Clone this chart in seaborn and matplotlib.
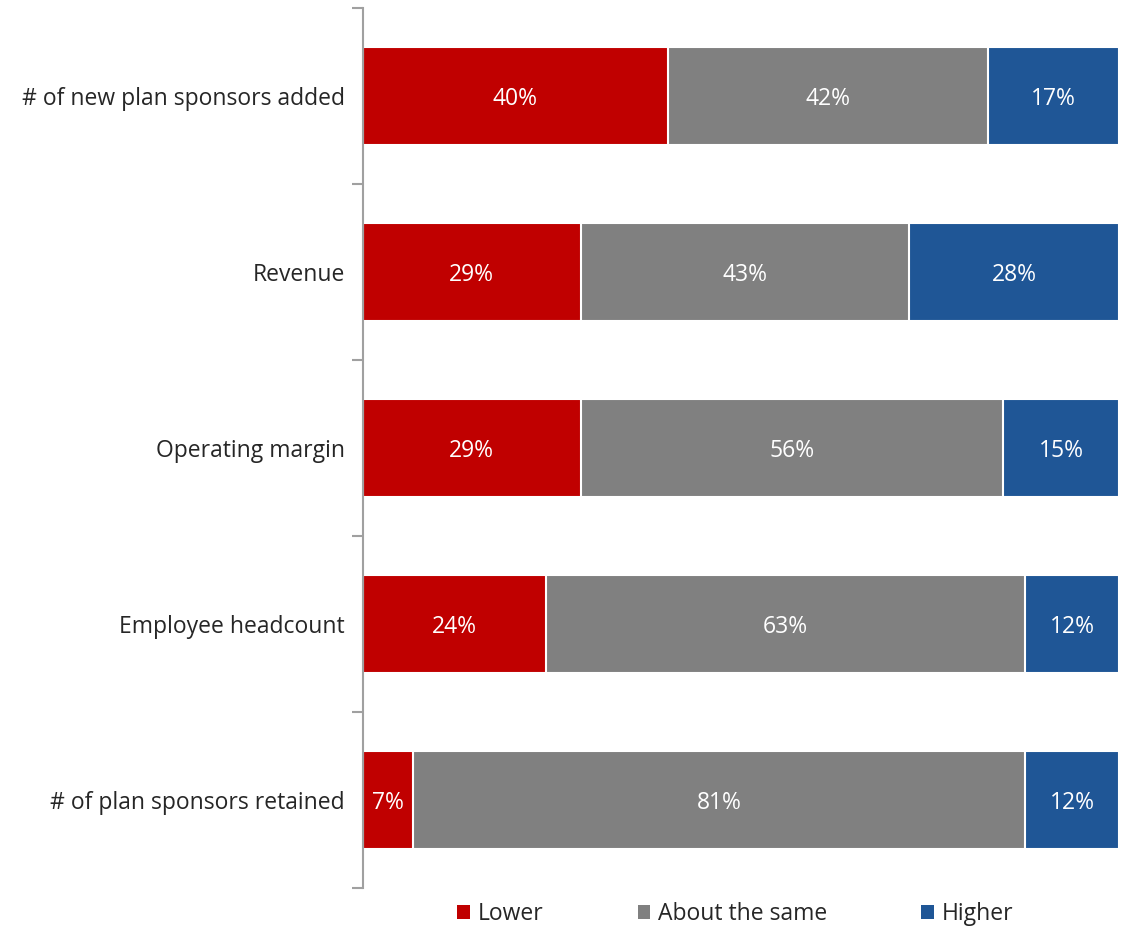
import matplotlib
matplotlib.use("Agg")
import matplotlib.pyplot as plt
from matplotlib.patches import Patch
import seaborn as sns
import pandas as pd
import numpy as np

categories = ["# of new plan sponsors added", "Revenue", "Operating margin",
              "Employee headcount", "# of plan sponsors retained"]
lower = [40.3, 28.8, 28.8, 24.2, 6.6]
same = [42.4, 43.4, 55.9, 63.4, 81.0]
higher = [17.3, 27.8, 15.3, 12.4, 12.4]
lower_lbl = ["40%", "29%", "29%", "24%", "7%"]
same_lbl = ["42%", "43%", "56%", "63%", "81%"]
higher_lbl = ["17%", "28%", "15%", "12%", "12%"]
series_names = ["Lower", "About the same", "Higher"]
colors = ["#C00000", "#808080", "#1F5696"]

sns.set_theme(style="white")
plt.rcParams["font.family"] = ["Open Sans", "DejaVu Sans"]

df = pd.DataFrame({"cat": categories, "lower": lower, "same": same, "higher": higher})
df["c1"] = df["lower"]
df["c2"] = df["lower"] + df["same"]
df["c3"] = df["c2"] + df["higher"]

fig = plt.figure(figsize=(11.3, 9.26), dpi=100)
ax = fig.add_axes([363 / 1130, 1 - 888 / 926, (1119 - 363) / 1130, (888 - 8) / 926])

for col, color in zip(["c3", "c2", "c1"], colors[::-1]):
    sns.barplot(data=df, y="cat", x=col, order=categories, color=color,
                orient="y", width=0.56, edgecolor="white", linewidth=1.5,
                saturation=1, ax=ax)

for i in range(len(categories)):
    starts = [0, df["c1"][i], df["c2"][i]]
    widths = [lower[i], same[i], higher[i]]
    labels = [lower_lbl[i], same_lbl[i], higher_lbl[i]]
    for s, w, l in zip(starts, widths, labels):
        ax.text(s + w / 2, i, l, ha="center", va="center_baseline", color="white", fontsize=16.5)

ax.set_xlim(0, 100)
ax.set_ylim(len(categories) - 0.5, -0.5)
ax.set_xlabel("")
ax.set_ylabel("")
ax.set_xticks([])
for s in ["top", "right", "bottom"]:
    ax.spines[s].set_visible(False)
ax.spines["left"].set_color("#A0A0A0")
ax.spines["left"].set_linewidth(1.5)
ax.set_yticks(range(len(categories)))
ax.set_yticklabels(categories, fontsize=16.5, color="#262626")
ax.set_yticks(np.arange(-0.5, len(categories), 1), minor=True)
ax.tick_params(axis="y", which="major", length=0, pad=13)
ax.tick_params(axis="y", which="minor", length=8, width=1.5, color="#A0A0A0", left=True)

handles = [Patch(facecolor=c, edgecolor="none") for c in colors]
ax.legend(handles, series_names, loc="center", bbox_to_anchor=(0.4927, -0.03),
          ncol=3, frameon=False, fontsize=16.5, handlelength=0.55, handleheight=0.55,
          handletextpad=0.35, columnspacing=4.1, labelcolor="#262626")

fig.savefig("out.png", dpi=100)
